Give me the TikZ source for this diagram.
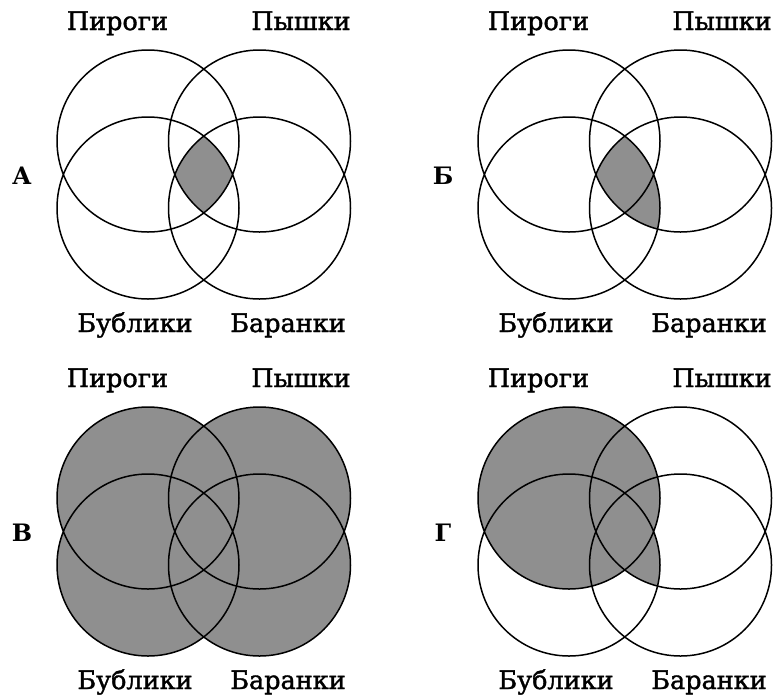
\documentclass[tikz,border=0pt]{standalone}
\usepackage{fontspec}
\setmainfont{DejaVu Serif}
\newfontfamily\namefont[FakeBold=1.5]{DejaVu Serif}
\definecolor{venngray}{gray}{0.56}
\tikzset{
	ring/.style={line width=1.5pt},
	part/.style={fill=venngray},
	setname/.style={anchor=base,inner sep=0pt,font=\namefont\fontsize{25.5}{28}\selectfont},
	tag/.style={anchor=base,inner sep=0pt,font=\fontsize{24}{28}\selectfont\bfseries},
}
\begin{document}
\begin{tikzpicture}[x=1pt,y=-1pt]
		\useasboundingbox (0,0) rectangle (778,697);
		\def\pirogi{(148,141) circle[radius=91pt]}\def\pyshki{(259.5,141) circle[radius=91pt]}
		\def\bubliki{(148,208) circle[radius=91pt]}\def\baranki{(259.5,208) circle[radius=91pt]}
		% shaded parts
		\begin{scope}\clip \pirogi;\clip \pyshki;\clip \bubliki;\fill[part] \baranki;\end{scope}
		\begin{scope}[shift={(421,0)}]\clip \pyshki;\clip \bubliki;\fill[part] \baranki;\end{scope}
		\begin{scope}[shift={(0,357)}]\fill[part] \pirogi \pyshki \bubliki \baranki;\end{scope}
		\begin{scope}[shift={(421,357)}]\fill[part] \pirogi;\clip \pyshki;\fill[part] \bubliki;\end{scope}
		% circles and names
		\foreach \pn/\dx/\dy [count=\i] in {А/0/0,Б/421/0,В/0/357,Г/421/357}{
			\begin{scope}[shift={(\dx,\dy)}]
				\draw[ring] \pirogi \pyshki \bubliki \baranki;
				\node[setname] (pir\i) at (117.5,30) {Пироги};\node[setname] (pysh\i) at (301,30) {Пышки};
				\node[setname] (bub\i) at (135,332) {Бублики};\node[setname] (bar\i) at (288,332) {Баранки};
				\node[tag] (let\i) at (22,184) {\pn};
			\end{scope}}
	\end{tikzpicture}
\end{document}
